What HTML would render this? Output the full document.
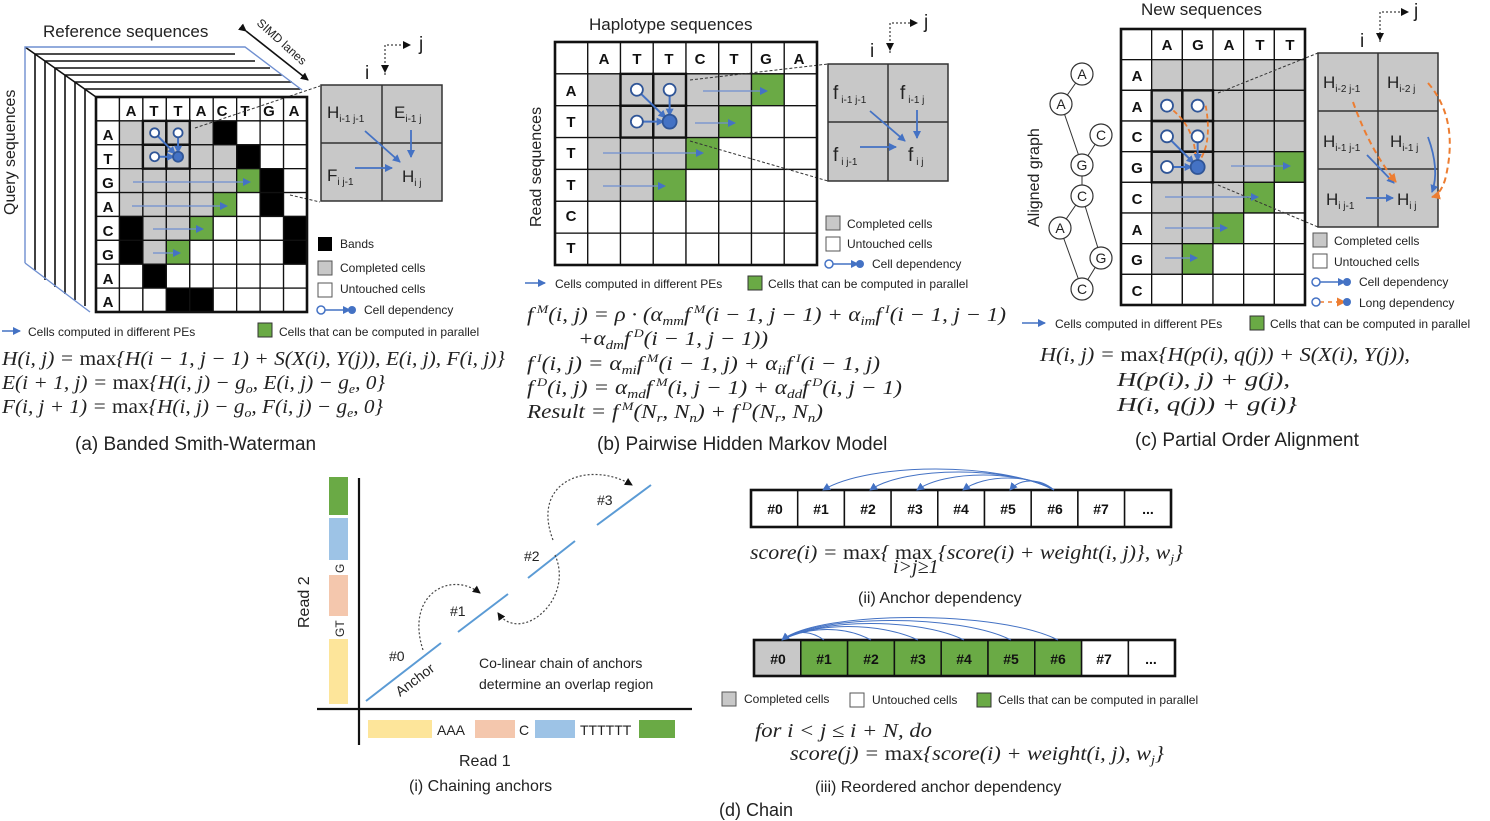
<!DOCTYPE html>
<html><head><meta charset="utf-8"><style>
html,body{margin:0;padding:0;background:#fff;}
svg{display:block;}
.s{font-family:"Liberation Sans",sans-serif;fill:#222;}
.m{font-family:"Liberation Serif",serif;font-style:italic;fill:#222;font-size:20px;}
.b{font-weight:bold;font-family:"Liberation Sans",sans-serif;fill:#111;}
.lg{font-family:"Liberation Sans",sans-serif;font-size:12px;fill:#222;}
</style></head><body>
<svg id="sv" width="1490" height="821" viewBox="0 0 1490 821" xmlns="http://www.w3.org/2000/svg">
<defs>
<marker id="ab" markerWidth="8" markerHeight="8" refX="7" refY="4" orient="auto" markerUnits="userSpaceOnUse"><path d="M0,0 L8,4 L0,8z" fill="#4472c4"/></marker>
<marker id="ak" markerWidth="8" markerHeight="8" refX="7" refY="4" orient="auto" markerUnits="userSpaceOnUse"><path d="M0,0 L8,4 L0,8z" fill="#111"/></marker>
<marker id="ao" markerWidth="9" markerHeight="9" refX="8" refY="4.5" orient="auto" markerUnits="userSpaceOnUse"><path d="M0,0 L9,4.5 L0,9z" fill="#ed7d31"/></marker>
</defs>
<g id="cells"></g>

<!-- ===== (a) 3D layers ===== -->
<g stroke="#111" stroke-width="1.6" fill="none">
<path d="M25,47 L96,97"/>
<path d="M35,54 L235,54"/><path d="M35,54 L35,270"/>
<path d="M45,61 L255,61"/><path d="M45,61 L45,280"/>
<path d="M55,68 L270,68"/><path d="M55,68 L55,287"/>
<path d="M65,75 L282,75"/><path d="M65,75 L65,294"/>
<path d="M75,82 L292,82"/><path d="M75,82 L75,300"/>
<path d="M85,89 L300,89"/><path d="M85,89 L85,306"/>
</g>
<path d="M25,263 L25,47 L245,47 L302,90" stroke="#6f8fd0" stroke-width="1.4" fill="none"/>
<path d="M25,263 L90,312" stroke="#6f8fd0" stroke-width="1.4" fill="none"/>
<text class="s" x="43" y="37" font-size="17">Reference sequences</text>
<text class="s" font-size="16" transform="translate(15,215) rotate(-90)">Query sequences</text>
<text class="s" font-size="12" transform="translate(256,24) rotate(42)">SIMD lanes</text>
<path d="M246,31 L308,80" stroke="#111" stroke-width="1.6" marker-end="url(#ak)" marker-start="url(#ak)"/>

<!-- (a) grid text -->
<g class="b" font-size="15" text-anchor="middle">
<text x="131" y="116">A</text><text x="154" y="116">T</text><text x="178" y="116">T</text><text x="201" y="116">A</text><text x="222" y="116">C</text><text x="245" y="116">T</text><text x="269" y="116">G</text><text x="294" y="116">A</text>
<text x="108" y="140">A</text><text x="108" y="164">T</text><text x="108" y="188">G</text><text x="108" y="212">A</text><text x="108" y="236">C</text><text x="108" y="260">G</text><text x="108" y="284">A</text><text x="108" y="307">A</text>
</g>

<!-- (a) inset -->
<rect x="321" y="85" width="121" height="116" fill="#c8c8c8" stroke="#333" stroke-width="1.5"/>
<path d="M382,85 V201 M321,143 H442" stroke="#333" stroke-width="1.5"/>
<text class="s" font-size="17" x="327" y="118">H<tspan font-size="10" dy="4">i-1 j-1</tspan></text>
<text class="s" font-size="17" x="394" y="118">E<tspan font-size="10" dy="4">i-1 j</tspan></text>
<text class="s" font-size="17" x="327" y="181">F<tspan font-size="10" dy="4">i j-1</tspan></text>
<text class="s" font-size="17" x="402" y="182">H<tspan font-size="10" dy="4">i j</tspan></text>
<g stroke="#4472c4" stroke-width="1.8" fill="none">
<path d="M365,131 L400,162" marker-end="url(#ab)"/>
<path d="M411,130 L411,157" marker-end="url(#ab)"/>
<path d="M355,168 L392,168" marker-end="url(#ab)"/>
</g>
<path d="M385,75 V45 H410" stroke="#111" stroke-dasharray="2,2" fill="none" marker-end="url(#ak)"/>
<path d="M385,45 V72" stroke="#111" stroke-dasharray="2,2" fill="none" marker-end="url(#ak)"/>
<text class="s" x="419" y="50" font-size="19">j</text>
<text class="s" x="365" y="79" font-size="19">i</text>
<path d="M195,128 L320,86 M290,195 L320,202" stroke="#333" stroke-dasharray="3,2" fill="none"/>

<!-- (a) legend -->
<rect x="318" y="237" width="14" height="14" fill="#000"/>
<text class="lg" x="340" y="248">Bands</text>
<rect x="318" y="261" width="14" height="14" fill="#c8c8c8" stroke="#555"/>
<text class="lg" x="340" y="272">Completed cells</text>
<rect x="318" y="283" width="14" height="14" fill="#fff" stroke="#555"/>
<text class="lg" x="340" y="293">Untouched cells</text>
<path d="M322,310 H350" stroke="#4472c4" stroke-width="1.5" marker-end="url(#ab)"/>
<circle cx="321" cy="310" r="4" fill="#fff" stroke="#4472c4" stroke-width="1.5"/><circle cx="352" cy="310" r="4" fill="#4472c4"/>
<text class="lg" x="364" y="314">Cell dependency</text>
<path d="M2,331 H20" stroke="#4472c4" stroke-width="1.5" marker-end="url(#ab)"/>
<text class="lg" x="28" y="336">Cells computed in different PEs</text>
<rect x="258" y="323" width="14" height="14" fill="#6aaa45" stroke="#333"/>
<text class="lg" x="279" y="336">Cells that can be computed in parallel</text>

<text class="m" x="2" y="365" textLength="503" lengthAdjust="spacingAndGlyphs">H(i, j) = <tspan font-style="normal">max</tspan>{H(i − 1, j − 1) + S(X(i), Y(j)), E(i, j), F(i, j)}</text>
<text class="m" x="2" y="389" textLength="383" lengthAdjust="spacingAndGlyphs">E(i + 1, j) = <tspan font-style="normal">max</tspan>{H(i, j) − g<tspan font-size="13" dy="4">o</tspan><tspan dy="-4">, E(i, j) − g</tspan><tspan font-size="13" dy="4">e</tspan><tspan dy="-4">, 0}</tspan></text>
<text class="m" x="2" y="413" textLength="381" lengthAdjust="spacingAndGlyphs">F(i, j + 1) = <tspan font-style="normal">max</tspan>{H(i, j) − g<tspan font-size="13" dy="4">o</tspan><tspan dy="-4">, F(i, j) − g</tspan><tspan font-size="13" dy="4">e</tspan><tspan dy="-4">, 0}</tspan></text>
<text class="s" x="75" y="450" font-size="19">(a) Banded Smith-Waterman</text>

<!-- ===== (b) ===== -->
<text class="s" x="589" y="30" font-size="17">Haplotype sequences</text>
<text class="s" font-size="16" transform="translate(541,227) rotate(-90)">Read sequences</text>
<g class="b" font-size="15" text-anchor="middle">
<text x="604" y="64">A</text><text x="637" y="64">T</text><text x="669" y="64">T</text><text x="700" y="64">C</text><text x="734" y="64">T</text><text x="766" y="64">G</text><text x="799" y="64">A</text>
<text x="571" y="96">A</text><text x="571" y="127">T</text><text x="571" y="158">T</text><text x="571" y="190">T</text><text x="571" y="221">C</text><text x="571" y="253">T</text>
</g>
<rect x="828" y="64" width="120" height="117" fill="#c8c8c8" stroke="#333" stroke-width="1.5"/>
<path d="M888,64 V181 M828,122 H948" stroke="#333" stroke-width="1.5"/>
<text class="s" font-size="19" x="833" y="99">f<tspan font-size="10" dx="3" dy="4">i-1 j-1</tspan></text>
<text class="s" font-size="19" x="900" y="99">f<tspan font-size="10" dx="3" dy="4">i-1 j</tspan></text>
<text class="s" font-size="19" x="833" y="161">f<tspan font-size="10" dx="3" dy="4">i j-1</tspan></text>
<text class="s" font-size="19" x="908" y="161">f<tspan font-size="10" dx="3" dy="4">i j</tspan></text>
<g stroke="#4472c4" stroke-width="1.8" fill="none">
<path d="M870,111 L905,141" marker-end="url(#ab)"/>
<path d="M917,110 L917,138" marker-end="url(#ab)"/>
<path d="M860,147 L896,147" marker-end="url(#ab)"/>
</g>
<path d="M890,53 V23 H917" stroke="#111" stroke-dasharray="2,2" fill="none" marker-end="url(#ak)"/>
<path d="M890,23 V50" stroke="#111" stroke-dasharray="2,2" fill="none" marker-end="url(#ak)"/>
<text class="s" x="924" y="28" font-size="19">j</text>
<text class="s" x="870" y="57" font-size="19">i</text>
<path d="M690,80 L828,64 M690,141 L828,181" stroke="#333" stroke-dasharray="3,2" fill="none"/>
<rect x="826" y="216" width="14" height="14" fill="#c8c8c8" stroke="#555"/>
<text class="lg" x="847" y="228">Completed cells</text>
<rect x="826" y="237" width="14" height="14" fill="#fff" stroke="#555"/>
<text class="lg" x="847" y="248">Untouched cells</text>
<path d="M830,264 H858" stroke="#4472c4" stroke-width="1.5" marker-end="url(#ab)"/>
<circle cx="829" cy="264" r="4" fill="#fff" stroke="#4472c4" stroke-width="1.5"/><circle cx="860" cy="264" r="4" fill="#4472c4"/>
<text class="lg" x="872" y="268">Cell dependency</text>
<path d="M525,283 H545" stroke="#4472c4" stroke-width="1.5" marker-end="url(#ab)"/>
<text class="lg" x="555" y="288">Cells computed in different PEs</text>
<rect x="748" y="276" width="14" height="14" fill="#6aaa45" stroke="#333"/>
<text class="lg" x="768" y="288">Cells that can be computed in parallel</text>

<text class="m" x="527" y="321" textLength="479" lengthAdjust="spacingAndGlyphs">f<tspan font-size="12" dx="3" dy="-8">M</tspan><tspan dy="8">(i, j) = ρ · (α</tspan><tspan font-size="13" dy="4">mm</tspan><tspan dy="-4">f</tspan><tspan font-size="12" dx="3" dy="-8">M</tspan><tspan dy="8">(i − 1, j − 1) + α</tspan><tspan font-size="13" dy="4">im</tspan><tspan dy="-4">f</tspan><tspan font-size="12" dx="3" dy="-8">I</tspan><tspan dy="8">(i − 1, j − 1)</tspan></text>
<text class="m" x="578" y="345" textLength="190" lengthAdjust="spacingAndGlyphs">+α<tspan font-size="13" dy="4">dm</tspan><tspan dy="-4">f</tspan><tspan font-size="12" dx="3" dy="-8">D</tspan><tspan dy="8">(i − 1, j − 1))</tspan></text>
<text class="m" x="527" y="370" textLength="353" lengthAdjust="spacingAndGlyphs">f<tspan font-size="12" dx="3" dy="-8">I</tspan><tspan dy="8">(i, j) = α</tspan><tspan font-size="13" dy="4">mi</tspan><tspan dy="-4">f</tspan><tspan font-size="12" dx="3" dy="-8">M</tspan><tspan dy="8">(i − 1, j) + α</tspan><tspan font-size="13" dy="4">ii</tspan><tspan dy="-4">f</tspan><tspan font-size="12" dx="3" dy="-8">I</tspan><tspan dy="8">(i − 1, j)</tspan></text>
<text class="m" x="527" y="394" textLength="375" lengthAdjust="spacingAndGlyphs">f<tspan font-size="12" dx="3" dy="-8">D</tspan><tspan dy="8">(i, j) = α</tspan><tspan font-size="13" dy="4">md</tspan><tspan dy="-4">f</tspan><tspan font-size="12" dx="3" dy="-8">M</tspan><tspan dy="8">(i, j − 1) + α</tspan><tspan font-size="13" dy="4">dd</tspan><tspan dy="-4">f</tspan><tspan font-size="12" dx="3" dy="-8">D</tspan><tspan dy="8">(i, j − 1)</tspan></text>
<text class="m" x="527" y="418" textLength="296" lengthAdjust="spacingAndGlyphs">Result = f<tspan font-size="12" dx="3" dy="-8">M</tspan><tspan dy="8">(N</tspan><tspan font-size="13" dy="4">r</tspan><tspan dy="-4">, N</tspan><tspan font-size="13" dy="4">n</tspan><tspan dy="-4">) + f</tspan><tspan font-size="12" dx="3" dy="-8">D</tspan><tspan dy="8">(N</tspan><tspan font-size="13" dy="4">r</tspan><tspan dy="-4">, N</tspan><tspan font-size="13" dy="4">n</tspan><tspan dy="-4">)</tspan></text>
<text class="s" x="597" y="450" font-size="19">(b) Pairwise Hidden Markov Model</text>

<!-- ===== (c) ===== -->
<text class="s" x="1141" y="15" font-size="17">New sequences</text>
<text class="s" font-size="16" transform="translate(1039,227) rotate(-90)">Aligned graph</text>
<g stroke="#333" stroke-width="1" fill="none">
<path d="M1082,74 L1061,104 L1082,165 L1101,135 M1082,165 L1082,196 L1060,228 L1082,289 L1101,258 L1082,196"/>
</g>
<g fill="#fff" stroke="#333" stroke-width="1.2">
<circle cx="1082" cy="74" r="11"/><circle cx="1061" cy="104" r="11"/><circle cx="1101" cy="135" r="11"/><circle cx="1082" cy="165" r="11"/><circle cx="1082" cy="196" r="11"/><circle cx="1060" cy="228" r="11"/><circle cx="1101" cy="258" r="11"/><circle cx="1082" cy="289" r="11"/>
</g>
<g class="s" font-size="14" text-anchor="middle">
<text x="1082" y="79">A</text><text x="1061" y="109">A</text><text x="1101" y="140">C</text><text x="1082" y="170">G</text><text x="1082" y="201">C</text><text x="1060" y="233">A</text><text x="1101" y="263">G</text><text x="1082" y="294">C</text>
</g>
<g class="b" font-size="15" text-anchor="middle">
<text x="1167" y="50">A</text><text x="1198" y="50">G</text><text x="1229" y="50">A</text><text x="1260" y="50">T</text><text x="1290" y="50">T</text>
<text x="1137" y="81">A</text><text x="1137" y="112">A</text><text x="1137" y="142">C</text><text x="1137" y="173">G</text><text x="1137" y="204">C</text><text x="1137" y="235">A</text><text x="1137" y="265">G</text><text x="1137" y="296">C</text>
</g>
<rect x="1318" y="53" width="120" height="174" fill="#c8c8c8" stroke="#333" stroke-width="1.5"/>
<path d="M1378,53 V227 M1318,111 H1438 M1318,169 H1438" stroke="#333" stroke-width="1.5"/>
<text class="s" font-size="17" x="1323" y="88">H<tspan font-size="10" dy="4">i-2 j-1</tspan></text>
<text class="s" font-size="17" x="1387" y="88">H<tspan font-size="10" dy="4">i-2 j</tspan></text>
<text class="s" font-size="17" x="1323" y="147">H<tspan font-size="10" dy="4">i-1 j-1</tspan></text>
<text class="s" font-size="17" x="1390" y="147">H<tspan font-size="10" dy="4">i-1 j</tspan></text>
<text class="s" font-size="17" x="1326" y="205">H<tspan font-size="10" dy="4">i j-1</tspan></text>
<text class="s" font-size="17" x="1397" y="205">H<tspan font-size="10" dy="4">i j</tspan></text>
<g stroke="#4472c4" stroke-width="1.8" fill="none">
<path d="M1367,155 L1394,183" marker-end="url(#ab)"/>
<path d="M1366,198 L1393,198" marker-end="url(#ab)"/>
<path d="M1428,137 Q1440,170 1432,192" marker-end="url(#ab)"/>
</g>
<g stroke="#ed7d31" stroke-width="2" stroke-dasharray="6,4" fill="none">
<path d="M1353,102 Q1370,150 1396,182" marker-end="url(#ao)"/>
<path d="M1428,83 Q1460,120 1445,180 Q1440,195 1432,197" marker-end="url(#ao)"/>
</g>
<path d="M1380,42 V12 H1408" stroke="#111" stroke-dasharray="2,2" fill="none" marker-end="url(#ak)"/>
<path d="M1380,12 V40" stroke="#111" stroke-dasharray="2,2" fill="none" marker-end="url(#ak)"/>
<text class="s" x="1414" y="17" font-size="19">j</text>
<text class="s" x="1360" y="47" font-size="19">i</text>
<path d="M1218,93 L1318,53 M1218,185 L1318,227" stroke="#333" stroke-dasharray="3,2" fill="none"/>
<rect x="1313" y="233" width="14" height="14" fill="#c8c8c8" stroke="#555"/>
<text class="lg" x="1334" y="245">Completed cells</text>
<rect x="1313" y="254" width="14" height="14" fill="#fff" stroke="#555"/>
<text class="lg" x="1334" y="266">Untouched cells</text>
<path d="M1317,282 H1345" stroke="#4472c4" stroke-width="1.5" marker-end="url(#ab)"/>
<circle cx="1316" cy="282" r="4" fill="#fff" stroke="#4472c4" stroke-width="1.5"/><circle cx="1347" cy="282" r="4" fill="#4472c4"/>
<text class="lg" x="1359" y="286">Cell dependency</text>
<path d="M1320,302 H1345" stroke="#ed7d31" stroke-width="1.5" stroke-dasharray="4,4" marker-end="url(#ao)"/>
<circle cx="1316" cy="302" r="4" fill="#fff" stroke="#4472c4" stroke-width="1.5"/><circle cx="1347" cy="302" r="4" fill="#4472c4"/>
<text class="lg" x="1359" y="307">Long dependency</text>
<path d="M1022,323 H1045" stroke="#4472c4" stroke-width="1.5" marker-end="url(#ab)"/>
<text class="lg" x="1055" y="328">Cells computed in different PEs</text>
<rect x="1250" y="316" width="14" height="14" fill="#6aaa45" stroke="#333"/>
<text class="lg" x="1270" y="328">Cells that can be computed in parallel</text>
<text class="m" x="1040" y="361" textLength="370" lengthAdjust="spacingAndGlyphs">H(i, j) = <tspan font-style="normal">max</tspan>{H(p(i), q(j)) + S(X(i), Y(j)),</text>
<text class="m" x="1117" y="386" textLength="173" lengthAdjust="spacingAndGlyphs">H(p(i), j) + g(j),</text>
<text class="m" x="1117" y="411" textLength="180" lengthAdjust="spacingAndGlyphs">H(i, q(j)) + g(i)}</text>
<text class="s" x="1135" y="446" font-size="19">(c) Partial Order Alignment</text>

<!-- ===== (d)(i) ===== -->
<rect x="329" y="477" width="19" height="38" fill="#6aaa45"/>
<rect x="329" y="518" width="19" height="42" fill="#9dc3e6"/>
<rect x="329" y="575" width="19" height="41" fill="#f4c7ad"/>
<rect x="329" y="639" width="19" height="65" fill="#fde59a"/>
<text class="s" font-size="12" transform="translate(344,573) rotate(-90)">G</text>
<text class="s" font-size="12" transform="translate(344,637) rotate(-90)">GT</text>
<path d="M359,478 V745 M317,709 H692" stroke="#111" stroke-width="2.2"/>
<rect x="368" y="720" width="64" height="18" fill="#fde59a"/>
<text class="s" font-size="14" x="437" y="735">AAA</text>
<rect x="475" y="720" width="40" height="18" fill="#f4c7ad"/>
<text class="s" font-size="14" x="519" y="735">C</text>
<rect x="535" y="720" width="40" height="18" fill="#9dc3e6"/>
<text class="s" font-size="14" x="580" y="735">TTTTTT</text>
<rect x="639" y="720" width="36" height="18" fill="#6aaa45"/>
<text class="s" font-size="16" transform="translate(309,628) rotate(-90)">Read 2</text>
<g stroke="#5b9bd5" stroke-width="2">
<path d="M366,701 L441,643 M458,632 L508,594 M528,578 L575,541 M597,525 L651,485"/>
</g>
<g class="s" font-size="14">
<text x="389" y="661">#0</text><text x="450" y="616">#1</text><text x="524" y="561">#2</text><text x="597" y="505">#3</text>
</g>
<text class="s" font-size="14" transform="translate(400,697) rotate(-37)">Anchor</text>
<g stroke="#444" stroke-width="1.2" stroke-dasharray="2,2" fill="none">
<path d="M423,650 C405,595 450,570 480,593" marker-end="url(#ak)"/>
<path d="M555,555 C575,600 520,645 498,613" marker-end="url(#ak)"/>
<path d="M553,540 C530,480 590,460 632,485" marker-end="url(#ak)"/>
</g>
<text class="s" font-size="14" x="479" y="668">Co-linear chain of anchors</text>
<text class="s" font-size="14" x="479" y="689">determine an overlap region</text>
<text class="s" font-size="16" x="459" y="766">Read 1</text>
<text class="s" font-size="16" x="409" y="791">(i) Chaining anchors</text>

<!-- (ii) -->
<g id="row2"></g>
<g class="b" font-size="14" text-anchor="middle">
<text x="775" y="514">#0</text><text x="821" y="514">#1</text><text x="868" y="514">#2</text><text x="915" y="514">#3</text><text x="961" y="514">#4</text><text x="1008" y="514">#5</text><text x="1055" y="514">#6</text><text x="1101" y="514">#7</text><text x="1148" y="514">...</text>
</g>
<g stroke="#4472c4" stroke-width="1" fill="none">
<path d="M1054,490 C1000,462 870,462 823,490" marker-end="url(#ab)"/>
<path d="M1054,490 C1010,466 905,466 870,490" marker-end="url(#ab)"/>
<path d="M1054,490 C1020,470 945,470 917,490" marker-end="url(#ab)"/>
<path d="M1054,490 C1030,474 985,474 963,490" marker-end="url(#ab)"/>
<path d="M1054,490 C1040,478 1020,478 1010,490" marker-end="url(#ab)"/>
</g>
<text class="m" x="750" y="559" textLength="433" lengthAdjust="spacingAndGlyphs">score(i) = <tspan font-style="normal">max</tspan>{ <tspan font-style="normal">max</tspan> {score(i) + weight(i, j)}, w<tspan font-size="13" dy="4">j</tspan><tspan dy="-4">}</tspan></text>
<text class="m" x="893" y="573" font-size="12">i&gt;j≥1</text>
<text class="s" font-size="16" x="858" y="603">(ii) Anchor dependency</text>

<!-- (iii) -->
<g class="b" font-size="14" text-anchor="middle">
<text x="778" y="664">#0</text><text x="824" y="664">#1</text><text x="871" y="664">#2</text><text x="918" y="664">#3</text><text x="964" y="664">#4</text><text x="1011" y="664">#5</text><text x="1058" y="664">#6</text><text x="1104" y="664">#7</text><text x="1151" y="664">...</text>
</g>
<g stroke="#4472c4" stroke-width="1" fill="none">
<path d="M1058,640 C1000,610 820,610 782,640" marker-end="url(#ab)"/>
<path d="M1011,640 C960,614 820,614 782,640"/>
<path d="M964,640 C920,618 820,618 782,640"/>
<path d="M918,640 C880,622 815,622 782,640"/>
<path d="M871,640 C845,626 810,626 782,640"/>
<path d="M824,640 C810,630 795,630 782,640"/>
</g>
<rect x="722" y="692" width="14" height="14" fill="#c8c8c8" stroke="#555"/>
<text class="lg" x="744" y="703">Completed cells</text>
<rect x="850" y="693" width="14" height="14" fill="#fff" stroke="#555"/>
<text class="lg" x="872" y="704">Untouched cells</text>
<rect x="977" y="693" width="14" height="14" fill="#6aaa45" stroke="#333"/>
<text class="lg" x="998" y="704">Cells that can be computed in parallel</text>
<text class="m" x="755" y="737" textLength="177" lengthAdjust="spacingAndGlyphs">for i &lt; j ≤ i + N, do</text>
<text class="m" x="790" y="760" textLength="374" lengthAdjust="spacingAndGlyphs">score(j) = <tspan font-style="normal">max</tspan>{score(i) + weight(i, j), w<tspan font-size="13" dy="4">j</tspan><tspan dy="-4">}</tspan></text>
<text class="s" font-size="16" x="815" y="792">(iii) Reordered anchor dependency</text>
<text class="s" font-size="18" x="719" y="816">(d) Chain</text>
<g id="over"></g>
</svg>
<script>
var NS="http://www.w3.org/2000/svg";
var cells=document.getElementById("cells"),over=document.getElementById("over");
var C={g:"#c8c8c8",k:"#000",n:"#6aaa45",w:"#fff"};
function R(p,x,y,w,h,f,s,sw){var r=document.createElementNS(NS,"rect");r.setAttribute("x",x);r.setAttribute("y",y);r.setAttribute("width",w);r.setAttribute("height",h);r.setAttribute("fill",f);r.setAttribute("stroke",s||"#111");r.setAttribute("stroke-width",sw||1.3);p.appendChild(r);}
function L(p,d,s,w,m,f){var e=document.createElementNS(NS,"path");e.setAttribute("d",d);e.setAttribute("stroke",s);e.setAttribute("stroke-width",w);e.setAttribute("fill",f||"none");if(m)e.setAttribute("marker-end","url(#"+m+")");p.appendChild(e);}
function Ci(p,x,y,r,fill){var c=document.createElementNS(NS,"circle");c.setAttribute("cx",x);c.setAttribute("cy",y);c.setAttribute("r",r);c.setAttribute("fill",fill?"#4472c4":"#fff");c.setAttribute("stroke","#2f5597");c.setAttribute("stroke-width",1.8);p.appendChild(c);}
function grid(x0,y0,W,H,nc,rows,bold){
  var nr=rows.length+1,cw=W/nc,rh=H/nr;
  for(var r=0;r<nr;r++)for(var c=0;c<nc;c++){
    var f="#fff";if(r>0&&c>0)f=C[rows[r-1][c-1]];
    R(cells,x0+c*cw,y0+r*rh,cw,rh,f,"#111",1.3);}
  R(over,x0,y0,W,H,"none","#111",2.6);
  if(bold){for(var r=bold[0];r<=bold[1];r++)for(var c=bold[2];c<=bold[3];c++)R(over,x0+c*cw,y0+r*rh,cw,rh,"none","#111",2.4);}
  return [cw,rh];
}
var a=grid(96,97,211,215,9,["ggggkwww","gggggkww","gggggnkw","ggggnwkw","kggnwwwk","kgnwwwwk","wkwwwwww","wwkkwwww"],[1,2,2,3]);
function cc(x0,y0,d,r,c){return [x0+(c+0.5)*d[0],y0+(r+0.5)*d[1]];}
(function(){var x0=96,y0=97,d=a;var p11=cc(x0,y0,d,1,2),p12=cc(x0,y0,d,1,3),p21=cc(x0,y0,d,2,2),p22=cc(x0,y0,d,2,3);
L(over,"M"+p11+" L"+(p22[0]-3)+","+(p22[1]-3),"#4472c4",2,"ab");L(over,"M"+p12+" L"+p22[0]+","+(p22[1]-4),"#4472c4",2,"ab");L(over,"M"+p21+" L"+(p22[0]-4)+","+p22[1],"#4472c4",2,"ab");
Ci(over,p11[0],p11[1],4.5,0);Ci(over,p12[0],p12[1],4.5,0);Ci(over,p21[0],p21[1],4.5,0);Ci(over,p22[0],p22[1],5,1);})();
[[133,250,182],[132,227,206],[153,203,229],[153,180,253]].forEach(function(v){L(over,"M"+v[0]+","+v[2]+" H"+v[1],"#6f8fd0",1.3,"ab");});
var b=grid(555,42,262,223,8,["gggggnw","ggggnww","gggnwww","ggnwwww","wwwwwww","wwwwwww"],[1,2,2,3]);
(function(){var x0=555,y0=42,d=b;var p11=cc(x0,y0,d,1,2),p12=cc(x0,y0,d,1,3),p21=cc(x0,y0,d,2,2),p22=cc(x0,y0,d,2,3);
L(over,"M"+p11+" L"+(p22[0]-4)+","+(p22[1]-4),"#4472c4",2,"ab");L(over,"M"+p12+" L"+p22[0]+","+(p22[1]-6),"#4472c4",2,"ab");L(over,"M"+p21+" L"+(p22[0]-6)+","+p22[1],"#4472c4",2,"ab");
Ci(over,p11[0],p11[1],6,0);Ci(over,p12[0],p12[1],6,0);Ci(over,p21[0],p21[1],6,0);Ci(over,p22[0],p22[1],7,1);})();
[[703,767,91],[695,735,123],[603,703,153],[603,665,186]].forEach(function(v){L(over,"M"+v[0]+","+v[2]+" H"+v[1],"#6f8fd0",1.3,"ab");});
var c=grid(1121,29,184,276,6,["ggggg","ggggg","ggggg","ggggn","gggnw","ggnww","gnwww","wwwww"],[2,4,1,2]);
(function(){var x0=1121,y0=29,d=c;var t=cc(x0,y0,d,4,2);
var ps=[cc(x0,y0,d,2,1),cc(x0,y0,d,2,2),cc(x0,y0,d,3,1),cc(x0,y0,d,3,2),cc(x0,y0,d,4,1)];
L(over,"M"+ps[0][0]+","+ps[0][1]+" Q1195,125 "+(t[0]-2)+","+(t[1]-8),"#ed7d31",1.8,null);
over.lastChild.setAttribute("stroke-dasharray","5,3");
L(over,"M"+(ps[1][0]+8)+","+ps[1][1]+" Q1212,140 "+(t[0]+3)+","+(t[1]-8),"#ed7d31",1.8,null);
over.lastChild.setAttribute("stroke-dasharray","5,3");
L(over,"M"+ps[2]+" L"+(t[0]-4)+","+(t[1]-4),"#4472c4",2,"ab");L(over,"M"+ps[3]+" L"+t[0]+","+(t[1]-6),"#4472c4",2,"ab");L(over,"M"+ps[4]+" L"+(t[0]-6)+","+t[1],"#4472c4",2,"ab");
ps.forEach(function(p){Ci(over,p[0],p[1],6,0);});Ci(over,t[0],t[1],7,1);})();
[[1231,1290,166],[1165,1258,197],[1165,1227,228],[1165,1197,258]].forEach(function(v){L(over,"M"+v[0]+","+v[2]+" H"+v[1],"#6f8fd0",1.3,"ab");});
var row2=document.getElementById("row2");
for(var i=0;i<9;i++)R(row2,751+i*46.7,490,46.7,37,"#fff","#111",1.5);
R(row2,751,490,420,37,"none","#111",2.6);
var cols=["g","n","n","n","n","n","n","w","w"];
for(var i=0;i<9;i++)R(row2,754+i*46.8,640,46.8,36,C[cols[i]],"#111",1.5);
R(row2,754,640,421,36,"none","#111",2.6);
</script>
</body></html>
